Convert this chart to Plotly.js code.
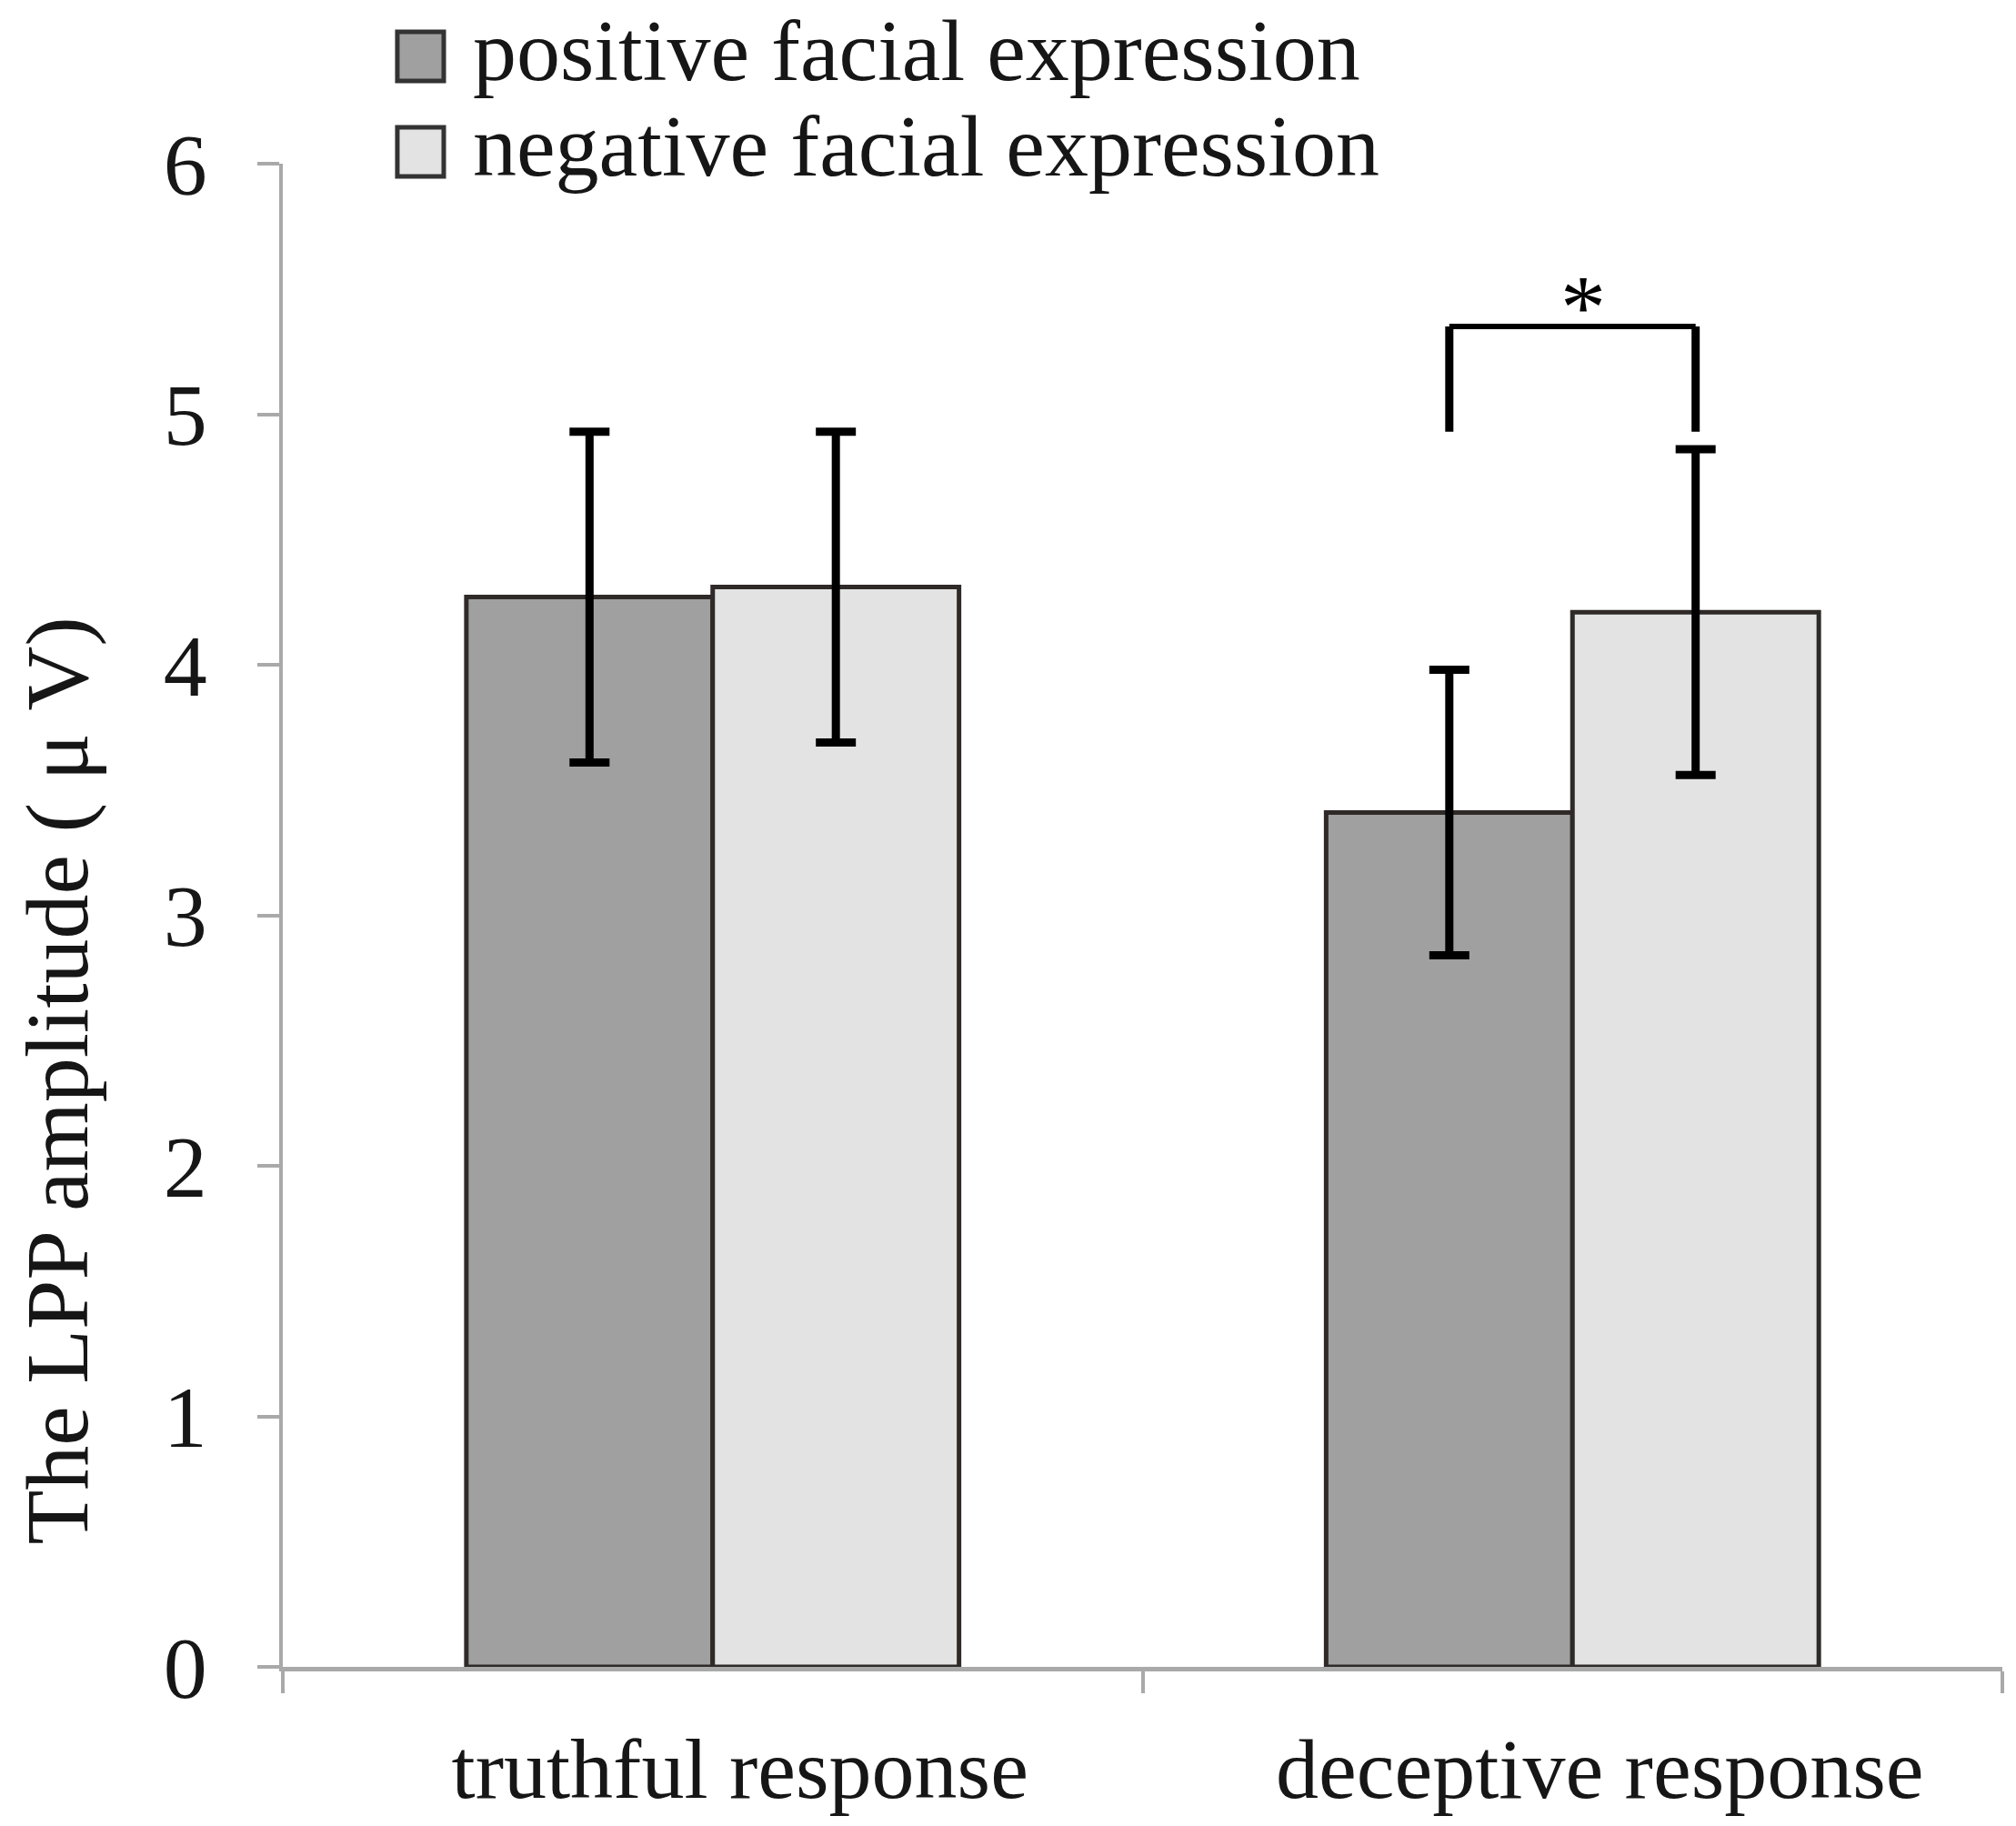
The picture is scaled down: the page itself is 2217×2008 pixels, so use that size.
<!DOCTYPE html>
<html>
<head>
<meta charset="utf-8">
<script src="https://cdn.plot.ly/plotly-3.0.1.min.js"></script>
<style>
  html, body { margin: 0; padding: 0; background: #fff; }
</style>
</head>
<body>
<div id="chart"></div>
<script>
// values
var categories = ['truthful response', 'deceptive response'];
var seriesNames = ['positive facial expression', 'negative facial expression'];
var positiveMeans = [4.27, 3.41];
var positiveErrors = [0.66, 0.57];
var negativeMeans = [4.31, 4.21];
var negativeErrors = [0.62, 0.65];
var yTicks = [0, 1, 2, 3, 4, 5, 6];
// significance bracket over the deceptive pair: [leg bottom, top]
var bracketY = [4.93, 5.35];
var bracketCategory = 1;
var starY = 5.43;

var BAR_GAP = 0.427;
var barW = (1 - BAR_GAP) / 2;
var fillColors = ['#a0a0a0', '#e3e3e3'];
var edgeColor = '#2f2a28';
var serif = '"Liberation Serif", "Times New Roman", serif';
var inkColor = '#161616';
var axisGray = '#a9a9a9';

function barTrace(name, means, errs, color) {
    return {
        type: 'bar',
        name: name,
        x: categories,
        y: means,
        marker: { color: color, line: { color: edgeColor, width: 5 } },
        error_y: {
            type: 'data',
            array: errs,
            visible: true,
            color: '#000000',
            thickness: 9,
            width: 22
        },
        hoverinfo: 'x+y'
    };
}

var traces = [
    barTrace(seriesNames[0], positiveMeans, positiveErrors, fillColors[0]),
    barTrace(seriesNames[1], negativeMeans, negativeErrors, fillColors[1])
];

// bracket legs sit over the two bar centres of the chosen category
var legL = bracketCategory - barW / 2;
var legR = bracketCategory + barW / 2;

var shapes = [
    { type: 'line', xref: 'x', yref: 'y', x0: legL, x1: legL, y0: bracketY[0], y1: bracketY[1],
      line: { color: '#000', width: 9 } },
    { type: 'line', xref: 'x', yref: 'y', x0: legR, x1: legR, y0: bracketY[0], y1: bracketY[1],
      line: { color: '#000', width: 9 } },
    { type: 'line', xref: 'x', yref: 'y', x0: legL, x1: legR, y0: bracketY[1], y1: bracketY[1],
      line: { color: '#000', width: 6 } }
];

var annotations = [
    {
        xref: 'x', yref: 'y', x: bracketCategory, y: starY, xshift: 12,
        text: '*', showarrow: false, xanchor: 'center', yanchor: 'middle',
        font: { family: serif, size: 100, color: '#000' }
    },
    {
        xref: 'paper', yref: 'paper', x: -0.131, y: 0.39,
        text: 'The LPP amplitude ( \u03bc V)', textangle: -90, showarrow: false,
        xanchor: 'center', yanchor: 'middle',
        font: { family: serif, size: 98, color: inkColor }
    }
];

// hand-made legend with large swatches
var legendRows = [
    { x0: 0.0666, x1: 0.0936, y0: 1.0550, y1: 1.0877 },
    { x0: 0.0666, x1: 0.0936, y0: 0.9915, y1: 1.0242 }
];
legendRows.forEach(function (r, i) {
    shapes.push({
        type: 'rect', xref: 'paper', yref: 'paper',
        x0: r.x0, x1: r.x1, y0: r.y0, y1: r.y1,
        fillcolor: fillColors[i], line: { color: '#333', width: 5 }
    });
    annotations.push({
        xref: 'paper', yref: 'paper', x: 0.1095, y: (r.y0 + r.y1) / 2, yshift: 7,
        text: seriesNames[i], showarrow: false, xanchor: 'left', yanchor: 'middle',
        font: { family: serif, size: 96, color: inkColor }
    });
});

var layout = {
    width: 2217,
    height: 2008,
    margin: { l: 311, r: 15, t: 180, b: 175, pad: 0 },
    paper_bgcolor: '#ffffff',
    plot_bgcolor: '#ffffff',
    barmode: 'group',
    bargap: BAR_GAP,
    bargroupgap: 0,
    showlegend: false,
    xaxis: {
        type: 'category',
        range: [-0.5, 1.5],
        showgrid: false,
        zeroline: false,
        showline: true,
        linecolor: axisGray,
        linewidth: 5,
        ticks: 'outside',
        tickson: 'boundaries',
        ticklen: 24,
        tickwidth: 4,
        tickcolor: axisGray,
        ticklabelstandoff: 26,
        ticklabelshift: 30,
        tickfont: { family: serif, size: 94, color: inkColor }
    },
    yaxis: {
        range: [0, 6],
        tickvals: yTicks,
        showgrid: false,
        zeroline: false,
        showline: true,
        linecolor: axisGray,
        linewidth: 4,
        ticks: 'outside',
        ticklen: 24,
        tickwidth: 4,
        tickcolor: axisGray,
        ticklabelstandoff: 36,
        tickfont: { family: serif, size: 96, color: inkColor }
    },
    shapes: shapes,
    annotations: annotations
};

Plotly.newPlot('chart', traces, layout, { displayModeBar: false, staticPlot: true });
</script>
</body>
</html>
